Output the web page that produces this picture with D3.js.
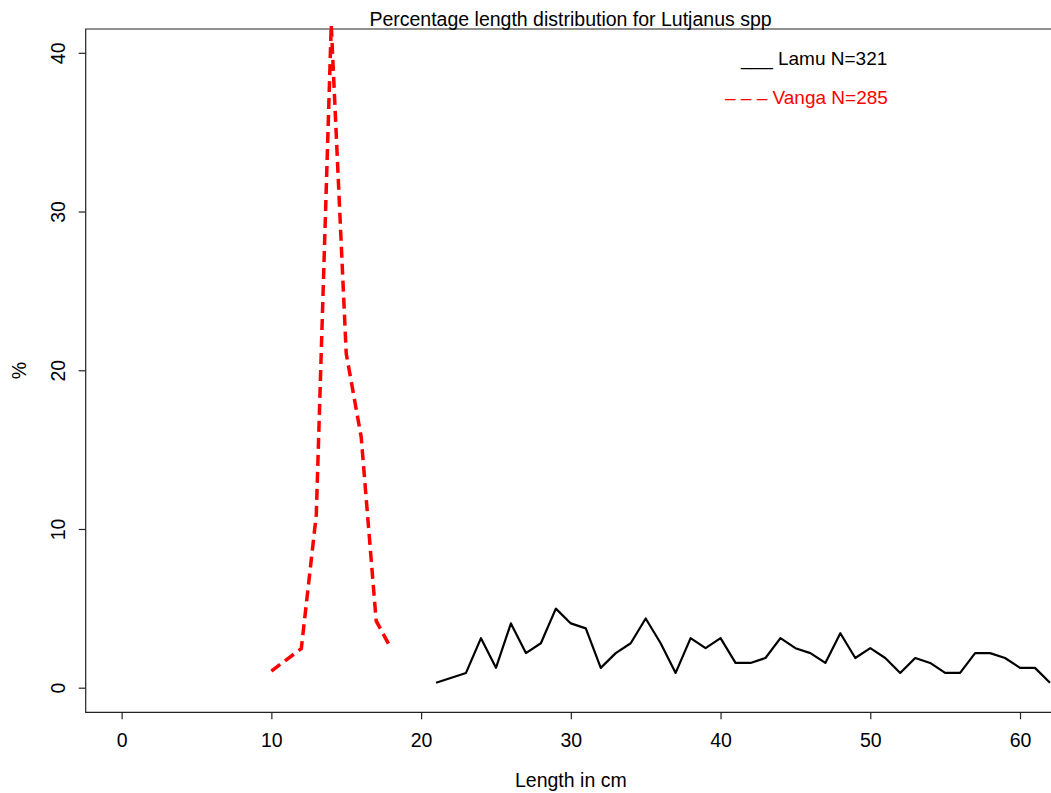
<!DOCTYPE html>
<html>
<head>
<meta charset="utf-8">
<script src="https://cdn.jsdelivr.net/npm/d3@7"></script>
<style>
  body { margin: 0; background: #fff; }
  svg { display: block; font-family: "Liberation Sans", Arial, sans-serif; }
</style>
</head>
<body>
<div id="chart"></div>
<script>
// Lamu (N=321), % of fish per 1 cm length class
const lamuLength = [21, 23, 24, 25, 26, 27, 28, 29, 30, 31, 32, 33, 34, 35, 36, 37, 38, 39, 40, 41,
    42, 43, 44, 45, 46, 47, 48, 49, 50, 51, 52, 53, 54, 55, 56, 57, 58, 59, 60, 61, 62];
const lamuPct = [0.31, 0.93, 3.12, 1.25, 4.05, 2.18, 2.80, 4.98, 4.05, 3.74, 1.25, 2.18, 2.80, 4.36, 2.80, 0.93, 3.12, 2.49, 3.12, 1.56,
    1.56, 1.87, 3.12, 2.49, 2.18, 1.56, 3.43, 1.87, 2.49, 1.87, 0.93, 1.87, 1.56, 0.93, 0.93, 2.18, 2.18, 1.87, 1.25, 1.25, 0.31];

// Vanga (N=285)
const vangaLength = [10, 12, 13, 14, 15, 16, 17, 18];
const vangaPct = [1.05, 2.46, 10.88, 41.75, 21.05, 15.79, 4.21, 2.46];

const xTicks = [0, 10, 20, 30, 40, 50, 60];
const yTicks = [0, 10, 20, 30, 40];

const legendItems = [
    { text: "___ Lamu N=321", color: "#000" },
    { text: "\u2013 \u2013 \u2013 Vanga N=285", color: "#ff0000" }
];

const width = 1051;
const height = 793;
const plot = { left: 85.7, top: 29, bottom: 712.3 };

const svg = d3.select("#chart")
    .append("svg")
    .attr("width", width)
    .attr("height", height);

const x = d3.scaleLinear()
    .domain([-2.4, 62.07])
    .range([plot.left, width]);

const y = d3.scaleLinear()
    .domain([-1.55, 41.5])
    .range([plot.bottom, plot.top]);

// box (right side runs off the page)
svg.append("path")
    .attr("d", `M${width + 5},${plot.top}H${plot.left}V${plot.bottom}H${width + 5}`)
    .attr("fill", "none")
    .attr("stroke", "#222")
    .attr("stroke-width", 1.2);

const xAxis = svg.append("g")
    .attr("transform", `translate(0,${plot.bottom})`)
    .call(d3.axisBottom(x).tickValues(xTicks).tickSize(7).tickPadding(14).tickSizeOuter(0));
xAxis.select(".domain").remove();
xAxis.selectAll("line").attr("stroke", "#222").attr("stroke-width", 1.2);
xAxis.selectAll("text")
    .style("font-size", "19.5px")
    .attr("fill", "#000");

const yAxis = svg.append("g")
    .attr("transform", `translate(${plot.left},0)`)
    .call(d3.axisLeft(y).tickValues(yTicks).tickSize(7).tickSizeOuter(0));
yAxis.select(".domain").remove();
yAxis.selectAll("line").attr("stroke", "#222").attr("stroke-width", 1.2);
yAxis.selectAll("text")
    .attr("x", null)
    .attr("dy", null)
    .attr("transform", "translate(-21,0) rotate(-90)")
    .attr("text-anchor", "middle")
    .style("font-size", "19.5px")
    .attr("fill", "#000");

const line = d3.line()
    .x(d => x(d[0]))
    .y(d => y(d[1]));

svg.append("path")
    .datum(d3.zip(lamuLength, lamuPct))
    .attr("d", line)
    .attr("fill", "none")
    .attr("stroke", "#000")
    .attr("stroke-width", 2.2)
    .attr("stroke-linejoin", "round");

svg.append("path")
    .datum(d3.zip(vangaLength, vangaPct))
    .attr("d", line)
    .attr("fill", "none")
    .attr("stroke", "#ff0000")
    .attr("stroke-width", 3.5)
    .attr("stroke-dasharray", "11,6");

// titles
svg.append("text")
    .attr("x", 570.5)
    .attr("y", 26)
    .attr("text-anchor", "middle")
    .style("font-size", "19.5px")
    .text("Percentage length distribution for Lutjanus spp");

svg.append("text")
    .attr("x", x(30))
    .attr("y", 787)
    .attr("text-anchor", "middle")
    .style("font-size", "19.5px")
    .text("Length in cm");

svg.append("text")
    .attr("transform", `translate(26,${(plot.top + plot.bottom) / 2}) rotate(-90)`)
    .attr("text-anchor", "middle")
    .style("font-size", "19.5px")
    .text("%");

svg.append("g")
    .selectAll("text")
    .data(legendItems)
    .join("text")
    .attr("x", (d, i) => i === 0 ? 741 : 725)
    .attr("y", (d, i) => 65 + i * 39)
    .attr("fill", d => d.color)
    .style("font-size", "19px")
    .text(d => d.text);
</script>
</body>
</html>
